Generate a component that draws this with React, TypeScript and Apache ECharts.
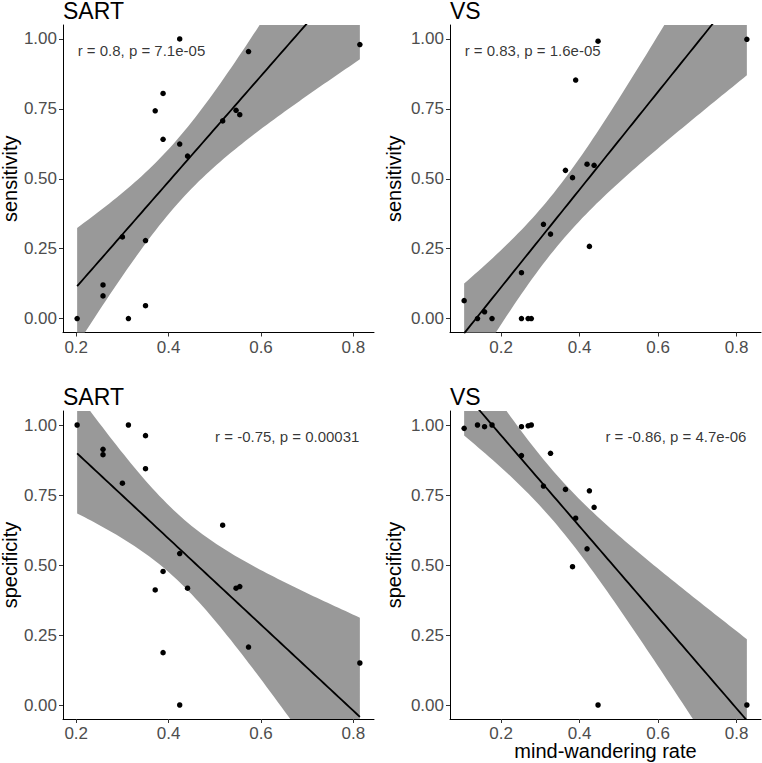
import React, { useEffect, useRef } from "react";
import * as echarts from "echarts";

// ---- data ----
const sartX = [0.202, 0.258, 0.258, 0.3, 0.313, 0.35, 0.35, 0.371, 0.388, 0.388, 0.424, 0.424, 0.441, 0.517, 0.546, 0.554, 0.573, 0.814];
const sartSens = [0, 0.12, 0.081, 0.292, 0, 0.279, 0.046, 0.743, 0.805, 0.641, 1.0, 0.624, 0.581, 0.707, 0.745, 0.729, 0.955, 0.98];
const sartSpec = [1.0, 0.913, 0.894, 0.792, 1.0, 0.962, 0.844, 0.411, 0.477, 0.187, 0, 0.541, 0.417, 0.642, 0.417, 0.423, 0.207, 0.15];

const vsX = [0.106, 0.14, 0.158, 0.177, 0.252, 0.252, 0.269, 0.277, 0.308, 0.326, 0.364, 0.382, 0.39, 0.419, 0.425, 0.437, 0.447, 0.826];
const vsSens = [0.064, 0, 0.024, 0, 0.164, 0, 0, 0, 0.337, 0.302, 0.53, 0.504, 0.853, 0.552, 0.258, 0.548, 0.992, 0.999];
const vsSpec = [0.988, 1.0, 0.994, 1.0, 0.994, 0.891, 0.997, 1.0, 0.782, 0.899, 0.77, 0.494, 0.667, 0.558, 0.765, 0.706, 0, 0];

const xTicks = [0.2, 0.4, 0.6, 0.8];
const yTicks = [0, 0.25, 0.5, 0.75, 1];
const panelTitles = ["SART", "VS", "SART", "VS"];
const yTitles = ["sensitivity", "sensitivity", "specificity", "specificity"];
const xTitle = "mind-wandering rate";
const corrLabels = ["r = 0.8, p = 7.1e-05", "r = 0.83, p = 1.6e-05", "r = -0.75, p = 0.00031", "r = -0.86, p = 4.7e-06"];
const corrLabelY = [0.958, 0.958, 0.96, 0.96];
const corrAlign = ["left", "left", "right", "right"];
const T975 = 2.1199; // t quantile, df = 16

const panels = [
  { x: sartX, y: sartSens },
  { x: vsX, y: vsSens },
  { x: sartX, y: sartSpec },
  { x: vsX, y: vsSpec },
];

const FONT = "'Liberation Sans', Arial, sans-serif";

function fitLm(xs: number[], ys: number[]) {
  const n = xs.length;
  const mx = xs.reduce((a, b) => a + b, 0) / n;
  const my = ys.reduce((a, b) => a + b, 0) / n;
  let sxx = 0, sxy = 0;
  for (let i = 0; i < n; i++) {
    sxx += (xs[i] - mx) ** 2;
    sxy += (xs[i] - mx) * (ys[i] - my);
  }
  const b = sxy / sxx;
  const a = my - b * mx;
  let rss = 0;
  for (let i = 0; i < n; i++) rss += (ys[i] - a - b * xs[i]) ** 2;
  const s = Math.sqrt(rss / (n - 2));
  const xmin = Math.min(...xs), xmax = Math.max(...xs);
  const line: number[][] = [], band: number[][] = [];
  const steps = 80;
  for (let k = 0; k < steps; k++) {
    const x = xmin + ((xmax - xmin) * k) / (steps - 1);
    const yhat = a + b * x;
    const se = s * Math.sqrt(1 / n + (x - mx) ** 2 / sxx);
    line.push([x, yhat]);
    band.push([x, yhat - T975 * se, yhat + T975 * se]);
  }
  return { line, band, xmin, xmax };
}

const gridBoxes = [
  { left: 63, top: 25, width: 311, height: 307.5 },
  { left: 450, top: 25, width: 311, height: 307.5 },
  { left: 63, top: 411, width: 311, height: 308 },
  { left: 450, top: 411, width: 311, height: 308 },
];

export default function App() {
  const ref = useRef<HTMLDivElement>(null);
  useEffect(() => {
    document.body.style.margin = "0";
    if (!ref.current) return;
    const chart = echarts.init(ref.current, undefined, { renderer: "svg" });

    const grid: any[] = [];
    const xAxis: any[] = [];
    const yAxis: any[] = [];
    const series: any[] = [];
    const graphic: any[] = [];

    panels.forEach((p, i) => {
      const g = gridBoxes[i];
      grid.push({ ...g, containLabel: false });
      const f = fitLm(p.x, p.y);
      const pad = (f.xmax - f.xmin) * 0.05;
      xAxis.push({
        type: "value",
        gridIndex: i,
        min: f.xmin - pad,
        max: f.xmax + pad,
        splitLine: { show: false },
        axisLine: { show: true, onZero: false, lineStyle: { color: "#000", width: 1 } },
        axisTick: { show: true, length: 4, customValues: xTicks, lineStyle: { color: "#333" } },
        axisLabel: {
          customValues: xTicks,
          margin: 6,
          color: "#4d4d4d",
          fontSize: 17,
          fontFamily: FONT,
          formatter: (v: number) => v.toFixed(1),
        },
      });
      yAxis.push({
        type: "value",
        gridIndex: i,
        min: -0.05,
        max: 1.05,
        splitLine: { show: false },
        axisLine: { show: true, onZero: false, lineStyle: { color: "#000", width: 1 } },
        axisTick: { show: true, length: 4, customValues: yTicks, lineStyle: { color: "#333" } },
        axisLabel: {
          customValues: yTicks,
          margin: 6,
          color: "#4d4d4d",
          fontSize: 17,
          fontFamily: FONT,
          formatter: (v: number) => v.toFixed(2),
        },
      });
      const band = f.band;
      series.push({
        type: "custom",
        xAxisIndex: i,
        yAxisIndex: i,
        data: [[band[0][0], band[0][1]]],
        clip: true,
        silent: true,
        z: 1,
        renderItem: (params: any, api: any) => {
          const upper = band.map((d) => api.coord([d[0], d[2]]));
          const lower = band.map((d) => api.coord([d[0], d[1]])).reverse();
          const cs = params.coordSys;
          return {
            type: "group",
            children: [
              {
                type: "polygon",
                shape: { points: upper.concat(lower) },
                style: { fill: "#999999", stroke: null },
              },
            ],
            clipPath: {
              type: "rect",
              shape: { x: cs.x, y: cs.y, width: cs.width, height: cs.height },
            },
          };
        },
      });
      series.push({
        type: "line",
        xAxisIndex: i,
        yAxisIndex: i,
        data: f.line,
        symbol: "none",
        lineStyle: { color: "#000", width: 1.8 },
        silent: true,
        clip: true,
        z: 2,
      });
      series.push({
        type: "scatter",
        xAxisIndex: i,
        yAxisIndex: i,
        data: p.x.map((x, k) => [x, p.y[k]]),
        symbol: "circle",
        symbolSize: 5.5,
        itemStyle: { color: "#000", opacity: 1 },
        clip: false,
        z: 3,
      });
      const left = corrAlign[i] === "left";
      series.push({
        type: "scatter",
        xAxisIndex: i,
        yAxisIndex: i,
        data: [[left ? f.xmin : f.xmax, corrLabelY[i]]],
        symbolSize: 1,
        itemStyle: { color: "transparent" },
        silent: true,
        z: 4,
        label: {
          show: true,
          formatter: corrLabels[i],
          position: left ? "right" : "left",
          distance: 0,
          color: "#000",
          fontSize: 15,
          fontFamily: FONT,
        },
        labelLayout: { hideOverlap: false },
      });

      graphic.push({
        type: "text",
        x: g.left,
        y: g.top - 14,
        style: {
          text: panelTitles[i],
          fill: "#000",
          font: `23px ${FONT}`,
          align: "left",
          verticalAlign: "middle",
        },
      });
      graphic.push({
        type: "text",
        x: i % 2 === 0 ? 10 : 394,
        y: g.top + g.height / 2,
        rotation: Math.PI / 2,
        style: {
          text: yTitles[i],
          fill: "#000",
          font: `20px ${FONT}`,
          align: "center",
          verticalAlign: "middle",
        },
      });
    });

    graphic.push({
      type: "text",
      x: gridBoxes[3].left + gridBoxes[3].width / 2,
      y: 751,
      style: {
        text: xTitle,
        fill: "#000",
        font: `20px ${FONT}`,
        align: "center",
        verticalAlign: "middle",
      },
    });

    chart.setOption({
      animation: false,
      backgroundColor: "#fff",
      grid,
      xAxis,
      yAxis,
      series,
      graphic,
    });
    return () => chart.dispose();
  }, []);
  return <div ref={ref} style={{ width: 762, height: 763 }} />;
}
